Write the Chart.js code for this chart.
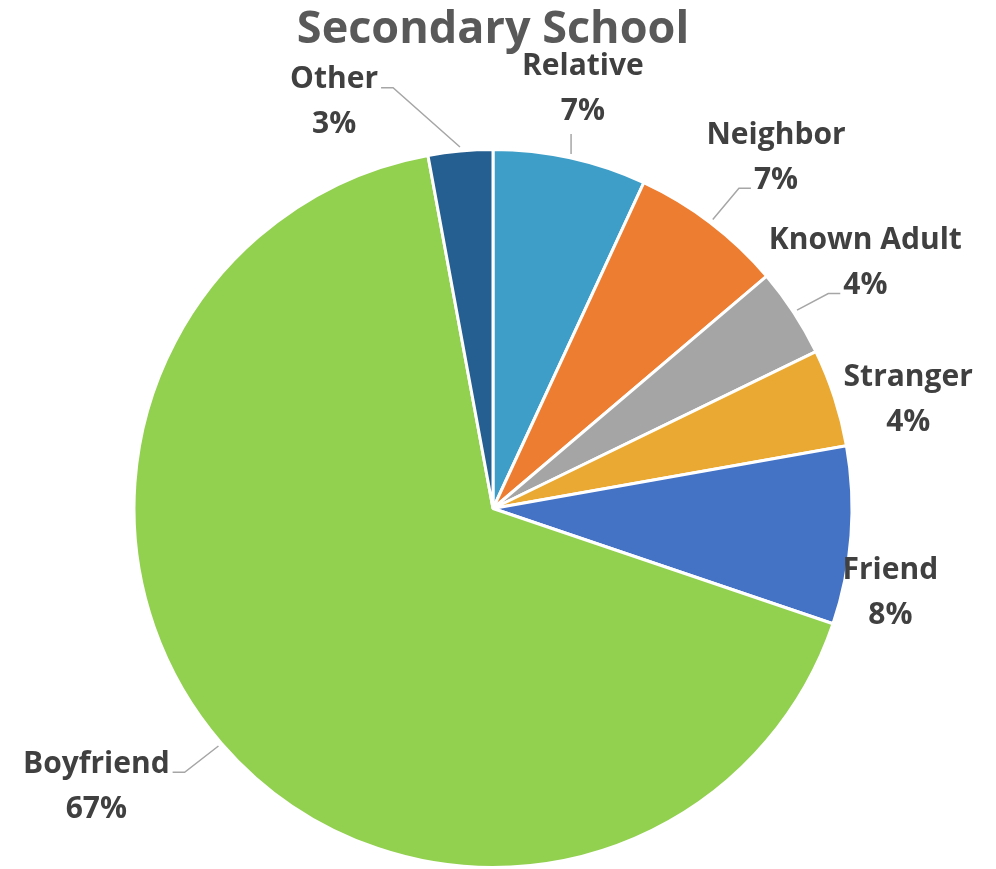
<!DOCTYPE html>
<html>
<head>
<meta charset="utf-8">
<title>Secondary School</title>
<script src="https://cdn.jsdelivr.net/npm/chart.js@4/dist/chart.umd.min.js"></script>
<style>
    body { margin: 0; background: #ffffff; }
    #wrap { width: 996px; height: 869px; position: relative; }
</style>
</head>
<body>
<div id="wrap"><canvas id="school-chart"></canvas></div>
<script>
// Data (share of cases, percent)
var categories = ['Relative', 'Neighbor', 'Known Adult', 'Stranger', 'Friend', 'Boyfriend', 'Other'];
var shares = [6.9, 6.9, 4.0, 4.4, 8.0, 66.9, 2.9];
var sliceColors = ['#3E9EC8', '#ED7D31', '#A5A5A5', '#EAA932', '#4472C4', '#92D050', '#255E91'];

// Where each label sits: angle shift (deg) from the slice middle and distance from centre (x radius)
var labelShift = [-0.4, 1.4, -0.6, 2.9, 7.3, 6.1, -16.0];
var labelDist = [1.202, 1.262, 1.247, 1.198, 1.130, 1.345, 1.223];
// Leader line: 'none', 'below', or the text line it attaches to (0 = name, 1 = percent)
var leaderTo = ['below', 1, 1, 'none', 'none', 0, 0];

var labelFont = 'bold 30px "Open Sans", "DejaVu Sans", sans-serif';
var lineGap = 45;

// Draws the data labels and leader lines next to each slice
var sliceLabels = {
    id: 'sliceLabels',
    afterDatasetsDraw: function(chart) {
        var ctx = chart.ctx;
        var arcs = chart.getDatasetMeta(0).data;
        ctx.save();
        ctx.font = labelFont;
        ctx.textAlign = 'center';
        ctx.textBaseline = 'middle';

        arcs.forEach(function(arc, i) {
            var r = arc.outerRadius;
            var mid = (arc.startAngle + arc.endAngle) / 2;
            var ang = mid + labelShift[i] * Math.PI / 180;
            var cx = arc.x + Math.cos(ang) * r * labelDist[i];
            var cy = arc.y + Math.sin(ang) * r * labelDist[i] + 3;
            var lines = [categories[i], Math.round(shares[i]) + '%'];
            var ys = [cy - lineGap / 2, cy + lineGap / 2];

            ctx.fillStyle = '#404040';
            ctx.fillText(lines[0], cx, ys[0]);
            ctx.fillText(lines[1], cx, ys[1]);

            if (leaderTo[i] === 'none') return;

            // start just outside the slice edge
            var px = arc.x + Math.cos(mid) * (r + 4);
            var py = arc.y + Math.sin(mid) * (r + 4);
            ctx.strokeStyle = '#A6A6A6';
            ctx.lineWidth = 1.5;
            ctx.beginPath();
            ctx.moveTo(px, py);
            if (leaderTo[i] === 'below') {
                ctx.lineTo(px, ys[1] + 22);
            } else {
                var k = leaderTo[i];
                var w = ctx.measureText(lines[k]).width;
                var ay = ys[k] + 8;
                if (cx > px) {
                    var ax = cx - w / 2 - 3;
                    ctx.lineTo(ax - 12, ay);
                    ctx.lineTo(ax, ay);
                } else {
                    var bx = cx + w / 2 + 3;
                    ctx.lineTo(bx + 12, ay);
                    ctx.lineTo(bx, ay);
                }
            }
            ctx.stroke();
        });
        ctx.restore();
    }
};

var chart = new Chart(document.getElementById('school-chart').getContext('2d'), {
    type: 'pie',
    data: {
        labels: categories,
        datasets: [{
            data: shares,
            backgroundColor: sliceColors,
            borderColor: '#ffffff',
            borderWidth: 3
        }]
    },
    options: {
        responsive: true,
        maintainAspectRatio: false,
        animation: false,
        layout: {
            padding: { left: 131, right: 141, top: 0, bottom: -3 }
        },
        plugins: {
            legend: { display: false },
            tooltip: { enabled: false },
            title: {
                display: true,
                text: 'Secondary School',
                color: '#595959',
                font: { family: '"Open Sans", "DejaVu Sans", sans-serif', size: 45, weight: 'bold', lineHeight: 1.2 },
                padding: { top: 3, bottom: 91 }
            }
        }
    },
    plugins: [sliceLabels]
});
</script>
</body>
</html>
